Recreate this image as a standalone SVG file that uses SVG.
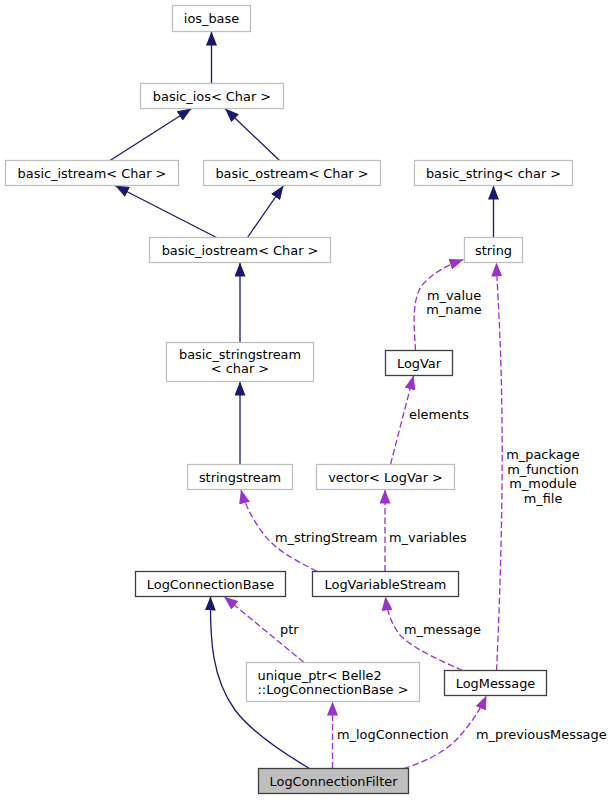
<svg xmlns="http://www.w3.org/2000/svg" width="615" height="800" viewBox="0 0 615 800">
<style>
text{font-family:"DejaVu Sans","Liberation Sans",sans-serif;font-size:12.9px;fill:#000}
.c{text-anchor:middle}
.ext{fill:#fff;stroke:#bfbfbf;stroke-width:1.3}
.doc{fill:#fff;stroke:#404040;stroke-width:1.3}
.cur{fill:#bfbfbf;stroke:#404040;stroke-width:1.3}
.inh{fill:none;stroke:#191970;stroke-width:1.3}
.use{fill:none;stroke:#9a32cd;stroke-width:1.3;stroke-dasharray:6.5,3}
</style>
<defs>
<marker id="ai" viewBox="0 0 14 11" refX="14" refY="5.5" markerWidth="14" markerHeight="11" markerUnits="userSpaceOnUse" orient="auto"><path d="M0,0 L14,5.5 L0,11 z" fill="#191970"/></marker>
<marker id="au" viewBox="0 0 14 11" refX="14" refY="5.5" markerWidth="14" markerHeight="11" markerUnits="userSpaceOnUse" orient="auto"><path d="M0,0 L14,5.5 L0,11 z" fill="#9a32cd"/></marker>
</defs>
<g id="connectors">
<path class="inh" marker-end="url(#ai)" d="M211.5,83.5 L211.5,31.5"/>
<path class="inh" marker-end="url(#ai)" d="M110,160.5 L191.5,108.5"/>
<path class="inh" marker-end="url(#ai)" d="M279.5,160.5 L225,108.5"/>
<path class="inh" marker-end="url(#ai)" d="M216.5,237.5 L115,185.5"/>
<path class="inh" marker-end="url(#ai)" d="M247.5,237.5 L283.5,185.5"/>
<path class="inh" marker-end="url(#ai)" d="M240,342.5 L240,262.5"/>
<path class="inh" marker-end="url(#ai)" d="M240,464.5 L240,381.5"/>
<path class="inh" marker-end="url(#ai)" d="M493.5,237.5 L493.5,185.5"/>
<path class="inh" marker-end="url(#ai)" d="M309.5,768.5 C280,751 250,730 235,710 C212,678 210,640 210.5,596.5"/>
<path class="use" marker-end="url(#au)" d="M415.5,350.5 C414,325 411,295 425,282 C434,273 445,266 463.5,259.5"/>
<path class="use" marker-end="url(#au)" d="M390.5,464.5 L413.5,375.5"/>
<path class="use" marker-end="url(#au)" d="M496.5,670.5 C500,600 503,500 502,420 C501,330 497,290 496.5,262.5"/>
<path class="use" marker-end="url(#au)" d="M317,571.5 C295,560 275,550 262,532 C252,518 245,505 241,489.5"/>
<path class="use" marker-end="url(#au)" d="M385,571.5 L385,489.5"/>
<path class="use" marker-end="url(#au)" d="M462.5,670.5 C440,660 415,650 400,635 C390,622 387,610 385.5,596.5"/>
<path class="use" marker-end="url(#au)" d="M304,662.5 L224,596.5"/>
<path class="use" marker-end="url(#au)" d="M332.5,768.5 L332.5,701.5"/>
<path class="use" marker-end="url(#au)" d="M403.5,768.5 C425,762 445,752 458,738 C470,725 480,710 486.5,695.5"/>
<text x="454" y="299.5" class="c">m_value</text>
<text x="454" y="313.5" class="c">m_name</text>
<text x="409" y="418.5">elements</text>
<text x="543" y="459" class="c">m_package</text>
<text x="543" y="473.5" class="c">m_function</text>
<text x="543" y="488" class="c">m_module</text>
<text x="543" y="502.5" class="c">m_file</text>
<text x="275" y="542">m_stringStream</text>
<text x="389" y="542">m_variables</text>
<text x="404" y="633.5">m_message</text>
<text x="280" y="633.5">ptr</text>
<text x="337" y="738.5">m_logConnection</text>
<text x="476" y="738.5">m_previousMessage</text>
</g>
<g id="ios_base"><rect class="ext" x="172.5" y="5.5" width="78" height="26"/><text x="211.5" y="23" class="c">ios_base</text></g>
<g id="basic_ios"><rect class="ext" x="140.5" y="83.5" width="143" height="25"/><text x="212" y="100.5" class="c">basic_ios&lt; Char &gt;</text></g>
<g id="basic_istream"><rect class="ext" x="5.5" y="160.5" width="173" height="25"/><text x="92" y="177.5" class="c">basic_istream&lt; Char &gt;</text></g>
<g id="basic_ostream"><rect class="ext" x="203.5" y="160.5" width="177" height="25"/><text x="292" y="177.5" class="c">basic_ostream&lt; Char &gt;</text></g>
<g id="basic_iostream"><rect class="ext" x="149.5" y="237.5" width="181" height="25"/><text x="240" y="254.5" class="c">basic_iostream&lt; Char &gt;</text></g>
<g id="basic_stringstream"><rect class="ext" x="166.5" y="342.5" width="147" height="39"/><text x="240" y="359" class="c">basic_stringstream</text><text x="240" y="372.5" class="c">&lt; char &gt;</text></g>
<g id="stringstream"><rect class="ext" x="187.5" y="464.5" width="105" height="25"/><text x="240" y="481.5" class="c">stringstream</text></g>
<g id="vector_logvar"><rect class="ext" x="316.5" y="464.5" width="138" height="25"/><text x="385.5" y="481.5" class="c">vector&lt; LogVar &gt;</text></g>
<g id="LogVar"><rect class="doc" x="385.5" y="350.5" width="67" height="25"/><text x="419" y="367.5" class="c">LogVar</text></g>
<g id="basic_string"><rect class="ext" x="414.5" y="160.5" width="158" height="25"/><text x="493.5" y="177.5" class="c">basic_string&lt; char &gt;</text></g>
<g id="string"><rect class="ext" x="464.5" y="237.5" width="58" height="25"/><text x="493.5" y="254.5" class="c">string</text></g>
<g id="LogConnectionBase"><rect class="doc" x="135.5" y="571.5" width="150" height="25"/><text x="210.5" y="588.5" class="c">LogConnectionBase</text></g>
<g id="LogVariableStream"><rect class="doc" x="312.5" y="571.5" width="146" height="25"/><text x="385.5" y="588.5" class="c">LogVariableStream</text></g>
<g id="unique_ptr"><rect class="ext" x="246.5" y="662.5" width="173" height="39"/><text x="257.5" y="679.5">unique_ptr&lt; Belle2</text><text x="257.5" y="694">::LogConnectionBase &gt;</text></g>
<g id="LogMessage"><rect class="doc" x="444.5" y="670.5" width="102" height="25"/><text x="495.5" y="687.5" class="c">LogMessage</text></g>
<g id="LogConnectionFilter"><rect class="cur" x="258.5" y="768.5" width="150" height="25"/><text x="333.5" y="785.5" class="c">LogConnectionFilter</text></g>
</svg>
